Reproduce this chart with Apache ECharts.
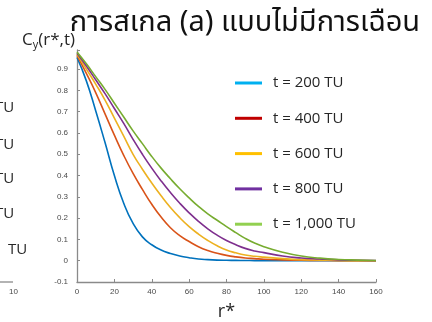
<!DOCTYPE html>
<html>
<head>
<meta charset="utf-8">
<script src="https://cdn.jsdelivr.net/npm/echarts@6/dist/echarts.min.js"></script>
<style>
  html, body { margin: 0; padding: 0; background: #fff; }
  #chart { width: 432px; height: 322px; }
</style>
</head>
<body>
<div id="chart"></div>
<script>
// Radial distance r* (sample points)
const rStar = [0, 5, 10, 15, 20, 25, 30, 35, 40, 45, 50, 55, 60, 65, 70, 75, 80, 85, 90, 95, 100, 110, 120, 130, 140, 150, 160];

// C_y(r*, t) for each time
const cT200  = [0.955, 0.845, 0.705, 0.555, 0.40, 0.27, 0.175, 0.112, 0.075, 0.05, 0.034, 0.022, 0.014, 0.008, 0.005, 0.003, 0.002, 0.0015, 0.001, 0.0005, 0, 0, 0, 0, 0, 0, 0];
const cT400  = [0.965, 0.88, 0.79, 0.69, 0.59, 0.495, 0.41, 0.335, 0.265, 0.205, 0.155, 0.118, 0.09, 0.066, 0.048, 0.035, 0.025, 0.018, 0.013, 0.01, 0.007, 0.004, 0.002, 0.001, 0.0005, 0, 0];
const cT600  = [0.97, 0.90, 0.83, 0.755, 0.67, 0.585, 0.50, 0.43, 0.365, 0.305, 0.25, 0.202, 0.16, 0.125, 0.095, 0.07, 0.05, 0.037, 0.027, 0.021, 0.017, 0.01, 0.005, 0.003, 0.001, 0.0005, 0];
const cT800  = [0.975, 0.915, 0.85, 0.785, 0.715, 0.645, 0.57, 0.50, 0.435, 0.375, 0.32, 0.27, 0.225, 0.185, 0.15, 0.12, 0.095, 0.075, 0.058, 0.046, 0.038, 0.022, 0.013, 0.008, 0.004, 0.002, 0.001];
const cT1000 = [0.98, 0.925, 0.865, 0.805, 0.74, 0.675, 0.61, 0.55, 0.49, 0.435, 0.385, 0.338, 0.295, 0.255, 0.22, 0.19, 0.16, 0.132, 0.105, 0.083, 0.066, 0.04, 0.022, 0.012, 0.006, 0.003, 0.001];

const seriesNames = ['t = 200 TU', 't = 400 TU', 't = 600 TU', 't = 800 TU', 't = 1,000 TU'];
const seriesValues = [cT200, cT400, cT600, cT800, cT1000];
const lineColors = ['#0072BD', '#D95319', '#EDB120', '#7E2F8E', '#77AC30'];
const legendColors = ['#00B0F0', '#C00000', '#FFC000', '#7030A0', '#92D050'];

const titleText = 'การสเกล (a) แบบไม่มีการเฉือน';
const thaiFont = "'Noto Sans Thai', 'Noto Sans Thai UI', 'Leelawadee UI', Tahoma, 'Noto Sans', 'DejaVu Sans', sans-serif";
const uiFont = "'Open Sans', 'Noto Sans', 'DejaVu Sans', sans-serif";
const tickFont = "'Liberation Sans', Arial, sans-serif";

const chart = echarts.init(document.getElementById('chart'), null, { renderer: 'canvas' });

const series = seriesNames.map((name, i) => ({
  name: name,
  type: 'line',
  data: rStar.map((r, k) => [r, seriesValues[i][k]]),
  smooth: 0.5,
  showSymbol: false,
  lineStyle: { color: lineColors[i], width: 1.6 },
  itemStyle: { color: lineColors[i] },
  z: 2 + i
}));

chart.setOption({
  backgroundColor: '#ffffff',
  animation: false,
  title: {
    text: titleText,
    left: 240,
    textAlign: 'center',
    top: 6,
    textStyle: { fontFamily: thaiFont, fontSize: 29, fontWeight: 'normal', color: '#111' }
  },
  grid: { left: 77, right: 56, top: 50, bottom: 40, containLabel: false, outerBoundsMode: 'none' },
  legend: {
    orient: 'vertical',
    left: 235,
    top: 74,
    padding: 0,
    icon: 'rect',
    itemWidth: 27,
    itemHeight: 3,
    itemGap: 17.3,
    textStyle: { fontFamily: uiFont, fontSize: 15, color: '#262626', lineHeight: 18, padding: [0, 0, 0, 6] },
    data: seriesNames.map((n, i) => ({ name: n, itemStyle: { color: legendColors[i] } }))
  },
  xAxis: {
    type: 'value',
    min: 0,
    max: 160,
    interval: 20,
    name: 'r*',
    nameLocation: 'middle',
    nameGap: 21,
    nameTextStyle: { fontFamily: uiFont, fontSize: 18, color: '#262626' },
    axisLine: { show: true, onZero: false, lineStyle: { color: '#8a8a8a', width: 1.3 } },
    axisTick: { show: true, inside: true, length: 3, lineStyle: { color: '#8a8a8a' } },
    axisLabel: { fontFamily: tickFont, fontSize: 8, color: '#4a4a4a', margin: 6 },
    splitLine: { show: false }
  },
  yAxis: {
    type: 'value',
    min: -0.1,
    max: 0.99,
    interval: 0.1,
    name: '{a|C}{b|y}{a|(r*,t)}',
    nameLocation: 'end',
    nameGap: 0,
    nameTextStyle: {
      align: 'right',
      padding: [0, 2, 0, 0],
      rich: {
        a: { fontFamily: uiFont, fontSize: 17, color: '#262626', lineHeight: 20 },
        b: { fontFamily: uiFont, fontSize: 11, color: '#262626', lineHeight: 12, verticalAlign: 'bottom' }
      }
    },
    axisLine: { show: true, onZero: false, lineStyle: { color: '#8a8a8a', width: 1.3 } },
    axisTick: { show: true, inside: true, length: 3, lineStyle: { color: '#8a8a8a' } },
    axisLabel: {
      fontFamily: tickFont, fontSize: 8, color: '#4a4a4a', margin: 9,
      formatter: function (v) {
        const k = Math.round(v * 10);
        if (Math.abs(v * 10 - k) > 1e-6) return '';
        return k === 0 ? '0' : (k / 10).toFixed(1);
      }
    },
    splitLine: { show: false }
  },
  graphic: [
    // fragments of the neighbouring panel at the left edge
    { type: 'text', left: -5, top: 100, style: { text: 'TU', font: '15px ' + uiFont, fill: '#262626' } },
    { type: 'text', left: -5, top: 137, style: { text: 'TU', font: '15px ' + uiFont, fill: '#262626' } },
    { type: 'text', left: -5, top: 171, style: { text: 'TU', font: '15px ' + uiFont, fill: '#262626' } },
    { type: 'text', left: -5, top: 206, style: { text: 'TU', font: '15px ' + uiFont, fill: '#262626' } },
    { type: 'text', left: 8, top: 242, style: { text: 'TU', font: '15px ' + uiFont, fill: '#262626' } },
    { type: 'line', shape: { x1: 0, y1: 282, x2: 13, y2: 282 }, style: { stroke: '#8a8a8a', lineWidth: 1.3 } },
    { type: 'text', left: 9, top: 288, style: { text: '10', font: '8px ' + tickFont, fill: '#4a4a4a' } }
  ],
  series: series
});
</script>
</body>
</html>
